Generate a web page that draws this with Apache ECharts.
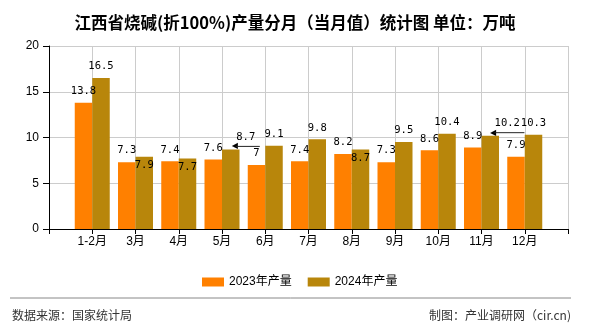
<!DOCTYPE html>
<html>
<head>
<meta charset="utf-8">
<script src="https://cdn.jsdelivr.net/npm/echarts@6/dist/echarts.min.js"></script>
<style>
html,body{margin:0;padding:0;background:#fff;}
#c{width:590px;height:330px;}
</style>
</head>
<body>
<div id="c"></div>
<script>
var categories = ['1-2月','3月','4月','5月','6月','7月','8月','9月','10月','11月','12月'];
var values2023 = [13.8, 7.3, 7.4, 7.6, 7.0, 7.4, 8.2, 7.3, 8.6, 8.9, 7.9];
var values2024 = [16.5, 7.9, 7.7, 8.7, 9.1, 9.8, 8.7, 9.5, 10.4, 10.2, 10.3];
var seriesNames = ['2023年产量', '2024年产量'];
var yTicks = [0, 5, 10, 15, 20];

// label placement (style only) for the 2024 series: 'in' = just inside bar top, number = arrow label shifted right by px
var place2024 = [0, 'in', 'in', 15, 0, 0, 'in', 0, 0, 17, 0];

var axisCats = [''].concat(categories).concat(['']);
function pad(arr){ return ['-'].concat(arr).concat(['-']); }

var labelFontFamily = "'DejaVu Sans Mono', monospace";
var labelFontSize = 10.5;

var data2024 = pad(values2024).map(function(v, i){
  if (v === '-') return v;
  var p = place2024[i-1];
  var item = {value: v};
  if (p === 'in') {
    item.label = {offset: [0, 20]};
  } else if (p) {
    var txtW = String(v).length * 6.3;
    item.label = {
      position: 'top', distance: 0, offset: [p, 0],
      formatter: '{v|{c}}\n{ar|◀}{ln|}',
      rich: {
        v: {fontFamily: labelFontFamily, fontSize: labelFontSize, color: '#000', lineHeight: 12, align: 'center'},
        ar: {fontFamily: "'DejaVu Sans'", fontSize: 8, color: '#000', lineHeight: 6, height: 6, padding: [0, -2, 0, 0]},
        ln: {width: txtW + 5, height: 1, backgroundColor: '#222'}
      }
    };
  }
  return item;
});

var chart = echarts.init(document.getElementById('c'), null, {renderer: 'canvas'});
chart.setOption({
  animation: false,
  backgroundColor: '#fff',
  title: {
    text: '江西省烧碱(折100%)产量分月（当月值）统计图 单位：万吨',
    left: 'center',
    top: 9,
    textStyle: {fontFamily: "'Noto Sans CJK SC'", fontSize: 16.5, fontWeight: 'bold', color: '#000'}
  },
  grid: {left: 49, top: 46, width: 519, height: 183, containLabel: false},
  legend: {
    left: 197, top: 271,
    itemWidth: 22, itemHeight: 9, itemGap: 16,
    icon: 'rect',
    textStyle: {fontFamily: "'Liberation Sans','Noto Sans CJK SC'", fontSize: 12, color: '#000'},
    data: seriesNames
  },
  xAxis: {
    type: 'category',
    data: axisCats,
    boundaryGap: false,
    axisLine: {lineStyle: {color: '#000', width: 1}},
    axisTick: {show: true, length: 5, lineStyle: {color: '#000'}},
    axisLabel: {margin: 7, fontFamily: "'Liberation Sans','Noto Sans CJK SC'", fontSize: 12, color: '#000', interval: 0},
    splitLine: {show: true, lineStyle: {color: '#cccccc', width: 1}}
  },
  yAxis: {
    type: 'value',
    min: yTicks[0], max: yTicks[yTicks.length-1], interval: 5,
    axisLine: {show: true, lineStyle: {color: '#000', width: 1}},
    axisTick: {show: true, length: 6, lineStyle: {color: '#000'}},
    axisLabel: {margin: 10, fontFamily: "'Liberation Sans'", fontSize: 12, color: '#000'},
    splitLine: {show: true, lineStyle: {color: '#cccccc', width: 1}}
  },
  series: [
    {
      name: seriesNames[0],
      type: 'bar',
      data: pad(values2023),
      barWidth: 17.5,
      barGap: '0%',
      itemStyle: {color: '#FF8000'},
      label: {show: true, position: 'top', distance: 6, fontFamily: labelFontFamily, fontSize: labelFontSize, color: '#000'}
    },
    {
      name: seriesNames[1],
      type: 'bar',
      data: data2024,
      barWidth: 17.5,
      barGap: '0%',
      itemStyle: {color: '#B8860B'},
      label: {show: true, position: 'top', distance: 6, fontFamily: labelFontFamily, fontSize: labelFontSize, color: '#000'}
    }
  ],
  graphic: [
    {type: 'line', shape: {x1: 10, y1: 298, x2: 571, y2: 298}, style: {stroke: '#888', lineWidth: 1}},
    {type: 'text', left: 12, top: 309, style: {text: '数据来源：国家统计局', font: "12px 'Noto Sans CJK SC'", fill: '#333'}},
    {type: 'text', right: 19, top: 309, style: {text: '制图：产业调研网（cir.cn)', font: "12px 'Noto Sans CJK SC'", fill: '#333'}}
  ]
});
</script>
</body>
</html>
